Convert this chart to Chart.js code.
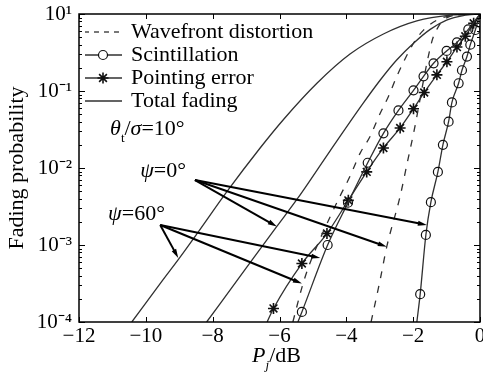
<!DOCTYPE html>
<html>
<head>
<meta charset="utf-8">
<script src="https://cdn.jsdelivr.net/npm/chart.js@4.4.0/dist/chart.umd.min.js"></script>
<style>
html, body { margin: 0; padding: 0; background: #fff; }
canvas { display: block; }
</style>
</head>
<body>
<canvas id="fading" width="483" height="372"></canvas>
<script>
var serif = '"Liberation Serif", "Times New Roman", serif';

// axes
var xTicks = [-12, -10, -8, -6, -4, -2, 0];
var yTicks = [1e-4, 1e-3, 1e-2, 1e-1, 1];
var yTickText = ['10⁻⁴', '10⁻³', '10⁻²', '10⁻¹', '10¹'];

// wavefront distortion (dashed)
var wave0X = [-3.26, -2.99, -2.79, -2.39, -2.19, -1.99, -1.44, -1.25, -1.1, -0.6, 0];
var wave0Y = [1e-4, 3.5e-4, 9.5e-4, 4.3e-3, 0.011, 0.028, 0.44, 0.68, 0.83, 0.98, 1];
var wave60X = [-5.6, -5.33, -5.13, -4.49, -4.19, -3.89, -3.59, -3.29, -2.99, -2.74, -2.49, -1.99, -1.69, -1.2, -0.6, 0];
var wave60Y = [1e-4, 2.8e-4, 5.2e-4, 2.3e-3, 4.3e-3, 7.8e-3, 0.0155, 0.0257, 0.051, 0.085, 0.155, 0.417, 0.617, 0.871, 0.977, 1];

// scintillation (circles)
var scint0X = [-1.89, -1.79, -1.62, -1.47, -1.26, -1.11, -0.94, -0.84, -0.64, -0.54, -0.39, -0.29, -0.14, 0];
var scint0Y = [1e-4, 2.3e-4, 1.35e-3, 3.6e-3, 8.9e-3, 0.020, 0.040, 0.071, 0.126, 0.186, 0.28, 0.40, 0.62, 1];
var scint60X = [-5.45, -5.33, -4.56, -3.95, -3.36, -2.89, -2.44, -1.99, -1.69, -1.39, -1.0, -0.69, -0.35, 0];
var scint60Y = [1e-4, 1.35e-4, 1e-3, 3.55e-3, 0.0117, 0.0282, 0.056, 0.102, 0.155, 0.229, 0.331, 0.427, 0.63, 1];

// pointing error (stars)
var pointX = [-6.37, -6.18, -5.33, -4.58, -3.94, -3.39, -2.89, -2.39, -1.99, -1.67, -1.29, -0.99, -0.69, -0.44, -0.19, 0];
var pointY = [1e-4, 1.5e-4, 5.75e-4, 1.41e-3, 3.8e-3, 8.9e-3, 0.0182, 0.0331, 0.0589, 0.0955, 0.162, 0.24, 0.372, 0.513, 0.759, 1];

// total fading
var total0X = [-8.18, -7.0, -6.08, -5.48, -4.49, -3.5, -2.99, -2.5, -1.99, -1.49, -1.0, -0.5, 0];
var total0Y = [1e-4, 5.0e-4, 1.74e-3, 3.9e-3, 0.0166, 0.069, 0.138, 0.251, 0.417, 0.631, 0.832, 0.955, 1];
var total60X = [-10.42, -9.5, -9.03, -8.48, -7.58, -6.58, -5.88, -4.88, -3.89, -2.89, -1.89, -0.89, 0];
var total60Y = [1e-4, 3.47e-4, 6.46e-4, 1.38e-3, 4.9e-3, 0.0182, 0.0427, 0.126, 0.302, 0.55, 0.813, 0.966, 1];

// psi labels and their arrows
var arrowFromX = [-8.53, -8.53, -8.53, -9.57, -9.57, -9.57];
var arrowFromY = [6.98e-3, 6.98e-3, 6.98e-3, 1.82e-3, 1.82e-3, 1.82e-3];
var arrowToX = [-6.08, -2.79, -1.59, -9.03, -4.78, -5.33];
var arrowToY = [1.74e-3, 9.5e-4, 1.82e-3, 6.8e-4, 6.8e-4, 3.16e-4];

var noteText = [
    [{t: 'θ', i: 1}, {t: 't', s: 1}, {t: '/'}, {t: 'σ', i: 1}, {t: '=10°'}],
    [{t: 'ψ', i: 1}, {t: '=0°'}],
    [{t: 'ψ', i: 1}, {t: '=60°'}]
];
var noteX = [-11.07, -10.17, -11.13];
var noteY = [0.0268, 7.64e-3, 2.11e-3];

function pts(xs, ys) {
    return xs.map(function (v, i) { return {x: v, y: ys[i]}; });
}

function markerRadius(r) {
    return function (c) {
        if (!c.raw) return r;
        return (c.raw.y >= 1 || c.raw.y <= 1e-4) ? 0 : r;
    };
}

var lineColor = '#303030';

function curve(label, xs, ys, extra) {
    var ds = {
        label: label,
        data: pts(xs, ys),
        borderColor: lineColor,
        borderWidth: 1.3,
        pointRadius: 0,
        pointBorderColor: '#111',
        pointBackgroundColor: 'rgba(0,0,0,0)',
        pointBorderWidth: 1.2,
        cubicInterpolationMode: 'monotone',
        fill: false
    };
    for (var k in extra) ds[k] = extra[k];
    return ds;
}

var datasets = [
    curve('Wavefront distortion', wave0X, wave0Y, {borderDash: [7, 8]}),
    curve('Wavefront distortion', wave60X, wave60Y, {borderDash: [7, 8]}),
    curve('Scintillation', scint0X, scint0Y, {pointStyle: 'circle', pointRadius: markerRadius(4.5), marker: 4.5}),
    curve('Scintillation', scint60X, scint60Y, {pointStyle: 'circle', pointRadius: markerRadius(4.5), marker: 4.5}),
    curve('Pointing error', pointX, pointY, {pointStyle: 'star', pointRadius: markerRadius(5.5), pointBorderWidth: 1.6, marker: 5.5}),
    curve('Total fading', total0X, total0Y, {}),
    curve('Total fading', total60X, total60Y, {})
];

function legendIcon(ds) {
    var c = document.createElement('canvas');
    c.width = 38; c.height = 14;
    var g = c.getContext('2d');
    g.strokeStyle = ds.borderColor;
    g.lineWidth = ds.borderWidth;
    g.setLineDash(ds.borderDash ? [5, 5] : []);
    g.beginPath(); g.moveTo(0, 7); g.lineTo(38, 7); g.stroke();
    g.setLineDash([]);
    if (ds.marker) {
        g.strokeStyle = '#111';
        g.fillStyle = '#fff';
        g.lineWidth = ds.pointBorderWidth;
        Chart.helpers.drawPoint(g, {pointStyle: ds.pointStyle, radius: ds.marker, borderWidth: ds.pointBorderWidth}, 19, 7);
    }
    return c;
}

function richText(ctx, parts, x, y, size) {
    ctx.textAlign = 'left';
    ctx.textBaseline = 'alphabetic';
    parts.forEach(function (p) {
        var s = p.s ? Math.round(size * 0.6) : size;
        ctx.font = (p.i ? 'italic ' : '') + s + 'px ' + serif;
        ctx.fillText(p.t, x, y + (p.s ? size * 0.3 : 0));
        x += ctx.measureText(p.t).width;
    });
    return x;
}

var decor = {
    id: 'decor',
    afterLayout: function (chart) {
        // keep the legend inside the plot, a little below its top edge
        var lg = chart.legend;
        if (!lg) return;
        var a = chart.chartArea;
        var w = lg.width, h = lg.height;
        lg.left = a.left + 6; lg.right = lg.left + w;
        lg.top = a.top + 6; lg.bottom = lg.top + h;
    },
    afterDatasetsDraw: function (chart) {
        var ctx = chart.ctx, xs = chart.scales.x, ys = chart.scales.y;
        ctx.save();
        ctx.strokeStyle = '#000';
        ctx.fillStyle = '#000';
        ctx.lineWidth = 2;
        for (var i = 0; i < arrowToX.length; i++) {
            var x0 = xs.getPixelForValue(arrowFromX[i]), y0 = ys.getPixelForValue(arrowFromY[i]);
            var x1 = xs.getPixelForValue(arrowToX[i]), y1 = ys.getPixelForValue(arrowToY[i]);
            var a = Math.atan2(y1 - y0, x1 - x0), ca = Math.cos(a), sa = Math.sin(a);
            ctx.beginPath();
            ctx.moveTo(x0, y0);
            ctx.lineTo(x1 - 6 * ca, y1 - 6 * sa);
            ctx.stroke();
            ctx.beginPath();
            ctx.moveTo(x1, y1);
            ctx.lineTo(x1 - 9 * ca + 2.5 * sa, y1 - 9 * sa - 2.5 * ca);
            ctx.lineTo(x1 - 9 * ca - 2.5 * sa, y1 - 9 * sa + 2.5 * ca);
            ctx.closePath();
            ctx.fill();
        }
        for (var j = 0; j < noteText.length; j++) {
            richText(ctx, noteText[j], xs.getPixelForValue(noteX[j]), ys.getPixelForValue(noteY[j]), 22);
        }
        ctx.restore();
    },
    afterDraw: function (chart) {
        var ctx = chart.ctx, a = chart.chartArea, xs = chart.scales.x, ys = chart.scales.y;
        ctx.save();
        ctx.strokeStyle = '#000';
        ctx.lineWidth = 1.5;
        ctx.strokeRect(a.left, a.top, a.right - a.left, a.bottom - a.top);
        ctx.lineWidth = 1;
        ctx.beginPath();
        xTicks.forEach(function (v) {
            var px = Math.round(xs.getPixelForValue(v)) + 0.5;
            ctx.moveTo(px, a.bottom); ctx.lineTo(px, a.bottom - 5);
            ctx.moveTo(px, a.top); ctx.lineTo(px, a.top + 5);
        });
        for (var d = 0; d < yTicks.length; d++) {
            var py = Math.round(ys.getPixelForValue(yTicks[d])) + 0.5;
            ctx.moveTo(a.left, py); ctx.lineTo(a.left + 6, py);
            ctx.moveTo(a.right, py); ctx.lineTo(a.right - 6, py);
            if (d < yTicks.length - 1) {
                for (var m = 2; m < 10; m++) {
                    var pm = Math.round(ys.getPixelForValue(yTicks[d] * m)) + 0.5;
                    ctx.moveTo(a.left, pm); ctx.lineTo(a.left + 3, pm);
                    ctx.moveTo(a.right, pm); ctx.lineTo(a.right - 3, pm);
                }
            }
        }
        ctx.stroke();
        // x axis title: P_j/dB
        ctx.fillStyle = '#000';
        var parts = [{t: 'P', i: 1}, {t: 'j', i: 1, s: 1}, {t: '/dB'}];
        var w = richText(ctx, parts, -1000, -1000, 22) + 1000;
        richText(ctx, parts, (a.left + a.right) / 2 - 3 - w / 2, 362, 22);
        ctx.restore();
    }
};

new Chart(document.getElementById('fading'), {
    type: 'line',
    data: { datasets: datasets },
    options: {
        responsive: false,
        animation: false,
        layout: { padding: { top: 14, right: 3, bottom: 0, left: 0 } },
        plugins: {
            tooltip: { enabled: false },
            legend: {
                position: 'chartArea',
                align: 'start',
                labels: {
                    usePointStyle: true,
                    pointStyleWidth: 34,
                    padding: 1,
                    color: '#000',
                    font: { family: serif, size: 22 },
                    filter: function (item, data) {
                        var first = data.datasets.findIndex(function (d) { return d.label === item.text; });
                        return first === item.datasetIndex;
                    },
                    generateLabels: function (chart) {
                        var items = Chart.defaults.plugins.legend.labels.generateLabels(chart);
                        items.forEach(function (it) {
                            it.pointStyle = legendIcon(chart.data.datasets[it.datasetIndex]);
                        });
                        return items;
                    }
                }
            }
        },
        scales: {
            x: {
                type: 'linear',
                min: -12,
                max: 0,
                afterBuildTicks: function (s) { s.ticks = xTicks.map(function (v) { return {value: v}; }); },
                afterFit: function (s) { s.paddingLeft = 0; s.paddingRight = 0; s.height = 50; },
                grid: { display: false, drawTicks: false },
                border: { display: false },
                ticks: {
                    autoSkip: false,
                    maxRotation: 0,
                    padding: 2,
                    color: '#000',
                    font: { family: serif, size: 21 },
                    callback: function (v) { return v === 0 ? '0' : '−' + Math.abs(v); }
                }
            },
            y: {
                type: 'logarithmic',
                min: 1e-4,
                max: 1,
                afterBuildTicks: function (s) { s.ticks = yTicks.map(function (v) { return {value: v}; }); },
                afterFit: function (s) { s.width = 79; s.paddingTop = 0; s.paddingBottom = 0; },
                grid: { display: false, drawTicks: false },
                border: { display: false },
                ticks: {
                    autoSkip: false,
                    padding: 7,
                    color: '#000',
                    font: { family: serif, size: 21 },
                    callback: function (v) { return yTickText[yTicks.indexOf(v)]; }
                },
                title: {
                    display: true,
                    text: 'Fading probability',
                    color: '#000',
                    font: { family: serif, size: 22 },
                    padding: { top: 4, bottom: 0 }
                }
            }
        }
    },
    plugins: [decor]
});
</script>
</body>
</html>
